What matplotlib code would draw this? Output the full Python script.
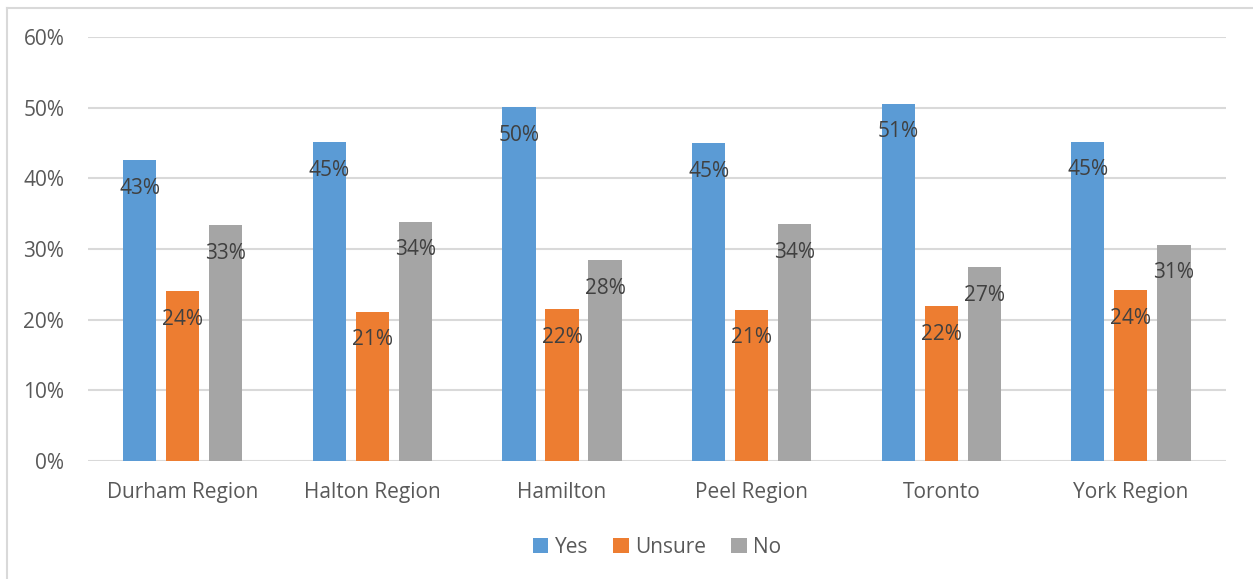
import numpy as np
import matplotlib.pyplot as plt
from matplotlib.lines import Line2D
from matplotlib.ticker import FuncFormatter

plt.rcParams['font.family'] = ['Open Sans', 'DejaVu Sans']

regions = ["Durham Region", "Halton Region", "Hamilton", "Peel Region", "Toronto", "York Region"]
yes = [42.6, 45.1, 50.1, 45.0, 50.6, 45.2]
unsure = [24.0, 21.1, 21.5, 21.4, 21.9, 24.2]
no = [33.4, 33.9, 28.4, 33.5, 27.4, 30.6]
series = ["Yes", "Unsure", "No"]
colors = ["#5b9bd5", "#ed7d31", "#a5a5a5"]

fig = plt.figure(figsize=(12.53, 5.79), dpi=100)
ax = fig.add_axes([0.0702, 0.2038, 0.908, 0.732])

x = np.arange(len(regions))
w = 0.175
off = 0.227
for i, (vals, name, c) in enumerate(zip([yes, unsure, no], series, colors)):
    bars = ax.bar(x + (i - 1) * off, vals, width=w, color=c, label=name, zorder=3)
    for b, v in zip(bars, vals):
        ax.annotate(f"{round(v):.0f}%", (b.get_x() + b.get_width() / 2, v),
                    xytext=(0, -28), textcoords="offset pixels",
                    ha="center", va="center", fontsize=15, color="#404040", zorder=4)

ax.set_xlim(-0.5, len(regions) - 0.5)
ax.set_ylim(0, 60)
ax.set_yticks(range(0, 61, 10))
ax.yaxis.set_major_formatter(FuncFormatter(lambda v, p: f"{v:.0f}%"))
ax.set_xticks(x)
ax.set_xticklabels(regions)
ax.tick_params(axis="both", length=0, labelsize=15, labelcolor="#595959")
ax.tick_params(axis="y", pad=17)
ax.tick_params(axis="x", pad=15)
ax.grid(axis="y", color="#d9d9d9", linewidth=1.5, zorder=0)
for s in ax.spines.values():
    s.set_visible(False)

ax.legend(loc="upper center", bbox_to_anchor=(0.5, -0.135), ncol=3, frameon=False,
          fontsize=15, labelcolor="#595959", handlelength=0.75, handleheight=0.75,
          handletextpad=0.3, columnspacing=1.2)

# chart border
fig.add_artist(Line2D([7 / 1253, 7 / 1253], [0, 1 - 8 / 579], transform=fig.transFigure,
                      color="#d9d9d9", lw=1.5))
fig.add_artist(Line2D([7 / 1253, 1], [1 - 8 / 579, 1 - 8 / 579], transform=fig.transFigure,
                      color="#d9d9d9", lw=1.5))

fig.savefig("out.png", dpi=100)
